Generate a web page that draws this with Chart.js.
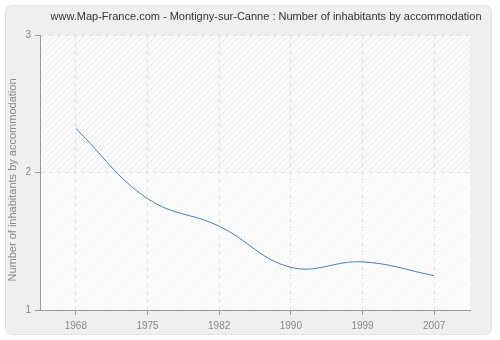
<!DOCTYPE html>
<html>
<head>
<meta charset="utf-8">
<script src="https://cdn.jsdelivr.net/npm/chart.js@4"></script>
<style>
  html, body { margin: 0; padding: 0; background: #fff; }
  #wrap { width: 500px; height: 340px; }
</style>
</head>
<body>
<div id="wrap"><canvas id="chart" width="500" height="340"></canvas></div>
<script>
// Census years and average occupants per dwelling
const years = ['1968', '1975', '1982', '1990', '1999', '2007'];
const inhabitants = [2.32, 1.81, 1.61, 1.31, 1.35, 1.25];
const yTicks = [1, 2, 3];

const titleText = 'www.Map-France.com - Montigny-sur-Canne : Number of inhabitants by accommodation';
const yTitleText = 'Number of inhabitants by accommodation';
const FONT = '"Liberation Sans", Arial, sans-serif';

// diagonal hatch used behind the plot
function hatchPattern(ctx) {
    const c = document.createElement('canvas');
    c.width = 6; c.height = 6;
    const p = c.getContext('2d');
    p.fillStyle = '#f9f9f9';
    p.fillRect(0, 0, 6, 6);
    p.strokeStyle = '#ededed';
    p.lineWidth = 1;
    p.beginPath();
    p.moveTo(0, 6); p.lineTo(6, 0);
    p.moveTo(-1, 1); p.lineTo(1, -1);
    p.moveTo(5, 7); p.lineTo(7, 5);
    p.stroke();
    return ctx.createPattern(c, 'repeat');
}

const backdrop = {
    id: 'backdrop',
    beforeDraw(chart) {
        const ctx = chart.ctx;
        const a = chart.chartArea;
        ctx.save();
        ctx.fillStyle = '#ffffff';
        ctx.fillRect(0, 0, chart.width, chart.height);
        ctx.beginPath();
        ctx.roundRect(5.5, 5.5, 486, 329, 6);
        ctx.fillStyle = '#efefef';
        ctx.fill();
        ctx.strokeStyle = '#e2e2e2';
        ctx.lineWidth = 1;
        ctx.stroke();
        ctx.fillStyle = hatchPattern(ctx);
        ctx.fillRect(a.left, a.top, a.right - a.left, a.bottom - a.top);
        // lower band is a touch lighter
        const mid = chart.scales.y.getPixelForValue(2);
        ctx.fillStyle = 'rgba(252,252,252,0.6)';
        ctx.fillRect(a.left, mid, a.right - a.left, a.bottom - mid);
        ctx.restore();
    },
    afterDraw(chart) {
        const ctx = chart.ctx;
        ctx.save();
        ctx.fillStyle = '#333';
        ctx.font = '11px ' + FONT;
        ctx.textAlign = 'center';
        ctx.textBaseline = 'middle';
        ctx.fillText(titleText, 266, 17);
        ctx.translate(13, 180);
        ctx.rotate(-Math.PI / 2);
        ctx.fillStyle = '#888';
        ctx.font = '11px ' + FONT;
        ctx.fillText(yTitleText, 0, 0);
        ctx.restore();
    }
};

new Chart(document.getElementById('chart'), {
    type: 'line',
    data: {
        labels: years,
        datasets: [{
            data: inhabitants,
            borderColor: '#4f7eb3',
            borderWidth: 1,
            pointRadius: 0,
            tension: 0.4,
            fill: false
        }]
    },
    options: {
        responsive: false,
        animation: false,
        events: [],
        layout: { padding: { top: 35, right: 30, left: 0, bottom: 0 } },
        plugins: {
            legend: { display: false },
            title: { display: false },
            tooltip: { enabled: false }
        },
        scales: {
            x: {
                type: 'category',
                offset: true,
                afterFit: s => { s.height = 30; },
                grid: {
                    color: '#e2e2e2',
                    tickBorderDash: [],
                    tickColor: '#999',
                    tickLength: 5,
                    offset: false
                },
                border: { color: '#999', width: 1, dash: [4, 4] },
                ticks: {
                    color: '#888',
                    font: { family: FONT, size: 10 },
                    padding: 5,
                    maxRotation: 0
                }
            },
            y: {
                min: 1,
                max: 3,
                afterFit: s => { s.width = 40; },
                afterBuildTicks: s => { s.ticks = yTicks.map(v => ({ value: v })); },
                grid: {
                    color: '#e2e2e2',
                    tickBorderDash: [],
                    tickColor: '#999',
                    tickLength: 5
                },
                border: { color: '#999', width: 1, dash: [4, 4] },
                ticks: {
                    color: '#888',
                    font: { family: FONT, size: 10 },
                    padding: 4
                }
            }
        }
    },
    plugins: [backdrop]
});
</script>
</body>
</html>
